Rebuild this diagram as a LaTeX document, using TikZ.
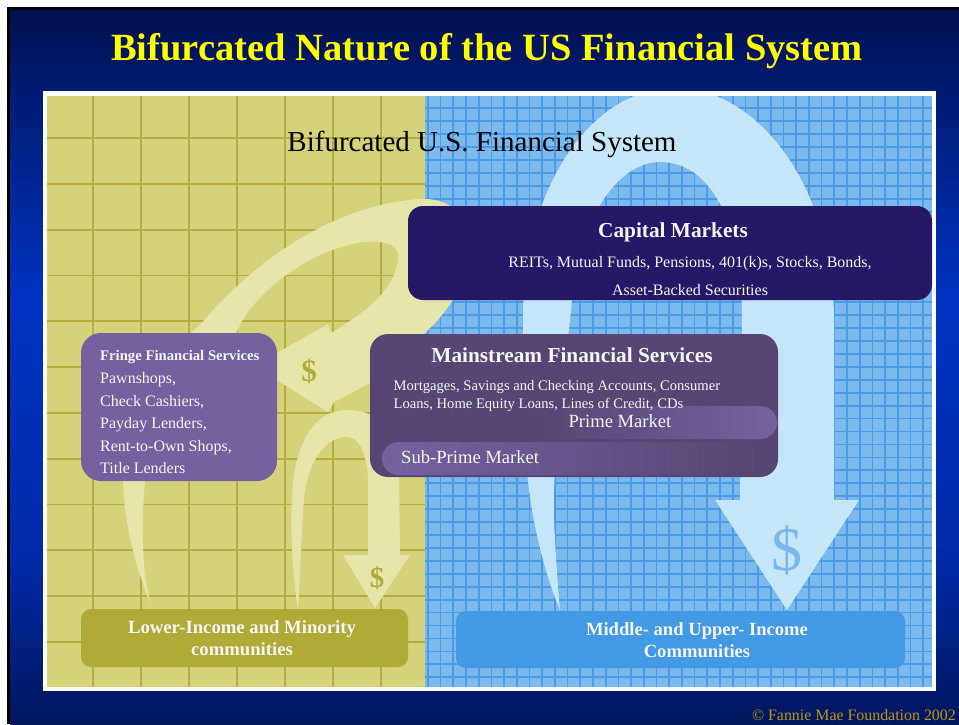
\documentclass[tikz,border=0pt]{standalone}
\usepackage{fontspec}
\setmainfont{Liberation Serif}
\definecolor{bgdark}{HTML}{00104E}
\definecolor{bgmid}{HTML}{001B72}
\definecolor{bgbright}{HTML}{0033C2}
\definecolor{bglow}{HTML}{002AA8}
\definecolor{bgbot}{HTML}{00165C}
\definecolor{ybg}{HTML}{D4D27A}
\definecolor{ygridc}{HTML}{B6AE3E}
\definecolor{bbg}{HTML}{7CBAEE}
\definecolor{bgridc}{HTML}{4A9BE8}
\definecolor{yarrow}{HTML}{E5E5AA}
\definecolor{barrow}{HTML}{C5E5F8}
\definecolor{capc}{HTML}{271767}
\definecolor{mainc}{HTML}{574673}
\definecolor{pillc}{HTML}{7461A0}
\definecolor{fringec}{HTML}{7560A0}
\definecolor{lowc}{HTML}{B0AB36}
\definecolor{midc}{HTML}{4299E4}
\definecolor{titley}{HTML}{FFFF00}
\definecolor{footc}{HTML}{B8941C}
\definecolor{ydollar}{HTML}{B2AA3A}
\definecolor{bdollar}{HTML}{7AB8EC}
\definecolor{boxtext}{HTML}{F5F5F5}
\begin{document}
\begin{tikzpicture}[x=1pt,y=-1pt,
  box/.style={draw=none, inner sep=0pt, shape=rectangle},
  txt/.style={inner sep=0pt, text=boxtext},
  ygridline/.style={draw=ygridc, line width=1.8pt},
  bgridline/.style={draw=bgridc, line width=1.7pt}]
\useasboundingbox (0,0) rectangle (959,724);
% slide background
\fill[black] (7,7) rectangle (959,724);
\shade[top color=bgdark, bottom color=bgmid] (10,10) rectangle (959,92);
\shade[top color=bgmid, bottom color=bgbright] (10,91.5) rectangle (959,300);
\shade[top color=bgbright, bottom color=bglow] (10,299.5) rectangle (959,560);
\shade[top color=bglow, bottom color=bgbot] (10,559.5) rectangle (959,724);
% frame and panels
\fill[white] (43,91) rectangle (936,691);
\fill[ybg] (47,96) rectangle (425,687);
\fill[bbg] (425,96) rectangle (932,687);
\begin{scope}
  \clip (47,96) rectangle (425,687);
  \foreach \x in {93,141,...,381} \draw[ygridline] (\x,96) -- (\x,687);
  \foreach \k in {0,...,11} \draw[ygridline] (47,{138+45.8*\k}) -- (425,{138+45.8*\k});
\end{scope}
\begin{scope}
  \clip (425,96) rectangle (932,687);
  \foreach \k in {0,...,40} \draw[bgridline] ({427.9+12.7*\k},96) -- ({427.9+12.7*\k},687);
  \foreach \k in {-1,...,45} \draw[bgridline] (425,{108.3+12.93*\k}) -- (932,{108.3+12.93*\k});
\end{scope}
% flow arrows
\begin{scope}
  \clip (47,96) rectangle (932,687);
  \fill[barrow] (560,610) .. controls (545,575) and (527,510) .. (525,440) -- (523,320)
    .. controls (522,190) and (590,88) .. (675,88)
    .. controls (760,88) and (834,190) .. (834,320) -- (834,500) -- (859,500) -- (787,610)
    -- (715,500) -- (740,500) -- (742,320)
    .. controls (742,220) and (710,162) .. (660,162)
    .. controls (615,162) and (578,225) .. (572,300)
    .. controls (562,400) and (552,470) .. (554,520)
    .. controls (556,560) and (558,590) .. (560,610) -- cycle;
  \fill[yarrow] (152,607) .. controls (138,575) and (125,530) .. (123,483)
    .. controls (120,420) and (160,360) .. (200,325)
    .. controls (250,265) and (330,205) .. (420,199)
    .. controls (460,197) and (478,230) .. (470,265)
    .. controls (465,285) and (445,315) .. (425,333)
    -- (370,383) -- (334,402) -- (328,412) -- (254,366) -- (328,324) -- (331,333)
    .. controls (355,318) and (395,295) .. (398,258)
    .. controls (400,240) and (370,238) .. (345,246)
    .. controls (300,258) and (255,295) .. (240,325)
    .. controls (225,360) and (160,440) .. (145,483)
    .. controls (140,530) and (143,580) .. (152,607) -- cycle;
  \fill[yarrow] (298,610) .. controls (293,580) and (290,530) .. (292,500)
    .. controls (293,450) and (310,412) .. (345,410)
    .. controls (375,408) and (398,430) .. (399,470)
    -- (400,555) -- (410,555) -- (375,608) -- (343,555) -- (368,555) -- (368,480)
    .. controls (367,455) and (360,437) .. (347,437)
    .. controls (325,437) and (308,460) .. (304,500)
    .. controls (301,540) and (300,580) .. (298,610) -- cycle;
\end{scope}
\node[inner sep=0pt, text=bdollar, font=\fontsize{62}{62}\selectfont] (d1) at (787,550) {\$};
\node[inner sep=0pt, text=ydollar, font=\fontsize{31}{31}\selectfont\bfseries] (d2) at (309,371) {\$};
\node[inner sep=0pt, text=ydollar, font=\fontsize{29}{29}\selectfont\bfseries] (d3) at (377,578) {\$};
% boxes
\node[box, fill=capc, rounded corners=15pt, minimum width=524pt, minimum height=94pt] (cap) at (670,253) {};
\node[box, fill=mainc, rounded corners=18pt, minimum width=408pt, minimum height=143pt] (main) at (574,405.5) {};
\node[box, rounded corners=16.5pt, left color=mainc, right color=pillc, minimum width=237pt, minimum height=33pt] (prime) at (658.5,422.5) {};
\node[box, rounded corners=16.5pt, left color=pillc, right color=mainc, minimum width=378pt, minimum height=33pt] (sub) at (571,458.5) {};
\node[box, fill=fringec, rounded corners=20pt, minimum width=196pt, minimum height=148pt] (fringe) at (179,407) {};
\node[box, fill=lowc, rounded corners=10pt, minimum width=327pt, minimum height=58pt] (low) at (244.5,638) {};
\node[box, fill=midc, rounded corners=10pt, minimum width=449pt, minimum height=57pt] (mid) at (680.5,639.5) {};
% texts
\node[inner sep=0pt, anchor=base, text=titley, font=\fontsize{38.5}{40}\selectfont\bfseries] (title) at (487,60) {Bifurcated Nature of the US Financial System};
\node[inner sep=0pt, anchor=base, text=black, font=\fontsize{29}{30}\selectfont] (subtitle) at (482,151) {Bifurcated U.S. Financial System};
\node[txt, anchor=base, font=\fontsize{21.3}{22}\selectfont\bfseries] (capt) at (673,237) {Capital Markets};
\node[txt, anchor=base, font=\fontsize{16}{17}\selectfont] (capl1) at (690,267) {REITs, Mutual Funds, Pensions, 401(k)s, Stocks, Bonds,};
\node[txt, anchor=base, font=\fontsize{16}{17}\selectfont] (capl2) at (690,295) {Asset-Backed Securities};
\node[txt, anchor=base, font=\fontsize{21.3}{22}\selectfont\bfseries] (maint) at (572,362) {Mainstream Financial Services};
\node[txt, anchor=base west, font=\fontsize{14.6}{15}\selectfont] (mainl1) at (393.5,390) {Mortgages, Savings and Checking Accounts, Consumer};
\node[txt, anchor=base west, font=\fontsize{14.6}{15}\selectfont] (mainl2) at (393.5,408) {Loans, Home Equity Loans, Lines of Credit, CDs};
\node[txt, anchor=base, font=\fontsize{18.6}{19}\selectfont] (primet) at (620,427) {Prime Market};
\node[txt, anchor=base west, font=\fontsize{18.6}{19}\selectfont] (subt) at (401,463) {Sub-Prime Market};
\node[txt, anchor=base west, font=\fontsize{14.7}{15}\selectfont\bfseries] (fringet) at (100,360) {Fringe Financial Services};
\node[txt, anchor=base west, font=\fontsize{16}{17}\selectfont] (fr1) at (100,383) {Pawnshops,};
\node[txt, anchor=base west, font=\fontsize{16}{17}\selectfont] (fr2) at (100,406) {Check Cashiers,};
\node[txt, anchor=base west, font=\fontsize{16}{17}\selectfont] (fr3) at (100,428) {Payday Lenders,};
\node[txt, anchor=base west, font=\fontsize{16}{17}\selectfont] (fr4) at (100,451) {Rent-to-Own Shops,};
\node[txt, anchor=base west, font=\fontsize{16}{17}\selectfont] (fr5) at (100,473) {Title Lenders};
\node[txt, anchor=base, font=\fontsize{18.7}{19}\selectfont\bfseries] (lowt1) at (242,633) {Lower-Income and Minority};
\node[txt, anchor=base, font=\fontsize{18.7}{19}\selectfont\bfseries] (lowt2) at (242,655) {communities};
\node[txt, anchor=base, font=\fontsize{18.6}{19}\selectfont\bfseries] (midt1) at (697,635) {Middle- and Upper- Income};
\node[txt, anchor=base, font=\fontsize{18.6}{19}\selectfont\bfseries] (midt2) at (697,657) {Communities};
\node[inner sep=0pt, anchor=base east, text=footc, font=\fontsize{15.9}{16}\selectfont] (foot) at (956,720.5) {© Fannie Mae Foundation 2002};
\end{tikzpicture}
\end{document}
